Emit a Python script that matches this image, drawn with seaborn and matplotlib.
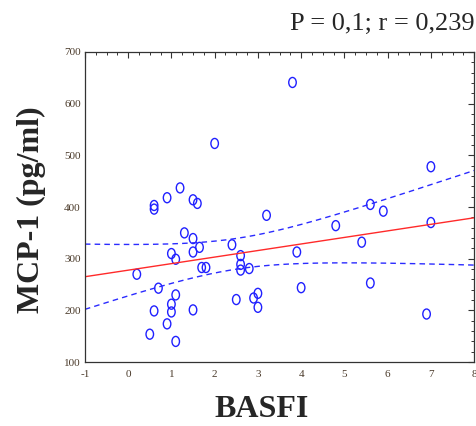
import numpy as np
import pandas as pd
import matplotlib
matplotlib.use("Agg")
import matplotlib.pyplot as plt
from matplotlib.path import Path
from matplotlib.ticker import MultipleLocator
import seaborn as sns

basfi = [2.0, 1.2, 0.9, 1.5, 1.6, 0.6, 0.6, 3.8, 7.0, 5.6, 5.9, 3.2, 1.3, 1.5,
         1.65, 1.5, 1.0, 1.1, 0.2, 1.7, 1.8, 2.4, 2.6, 2.6, 2.6, 2.8, 0.7, 1.1,
         3.0, 2.9, 2.5, 3.0, 1.0, 1.0, 0.6, 1.5, 0.9, 0.5, 1.1, 4.8, 5.4, 3.9,
         7.0, 4.0, 5.6, 6.9]
mcp1 = [523, 437, 418, 414, 407, 403, 396, 641, 478, 405, 392, 384, 350, 339,
        322, 313, 310, 299, 270, 283, 283, 327, 306, 289, 278, 281, 243, 230,
        233, 224, 221, 206, 212, 197, 199, 201, 174, 154, 140, 364, 332, 313,
        370, 244, 253, 193]
xticks = [-1, 0, 1, 2, 3, 4, 5, 6, 7, 8]
yticks = [100, 200, 300, 400, 500, 600, 700]
annot = "P = 0,1; r = 0,239"

df = pd.DataFrame({"BASFI": basfi, "MCP1": mcp1})

sns.set_style("white")
plt.rcParams["font.family"] = ["Liberation Serif", "DejaVu Serif"]
plt.rcParams["axes.unicode_minus"] = False

fig = plt.figure(figsize=(4.77, 4.26), dpi=100)
ax = fig.add_axes([0.178, 0.150, 0.816, 0.728])

# regression + 95% confidence band of the mean
x = np.asarray(basfi, float)
y = np.asarray(mcp1, float)
n = len(x)
b1, b0 = np.polyfit(x, y, 1)
resid = y - (b0 + b1 * x)
s = np.sqrt(np.sum(resid ** 2) / (n - 2))
xm = x.mean()
sxx = np.sum((x - xm) ** 2)
tcrit = 2.015
xs = np.linspace(xticks[0], xticks[-1], 200)
yfit = b0 + b1 * xs
half = tcrit * s * np.sqrt(1.0 / n + (xs - xm) ** 2 / sxx)
fit = pd.DataFrame({"x": xs, "fit": yfit, "lo": yfit - half, "hi": yfit + half})

sns.lineplot(data=fit, x="x", y="fit", color="#ff2a2a", lw=1.0, ax=ax)
sns.lineplot(data=fit, x="x", y="lo", color="#2b2bff", lw=1.0, ax=ax,
             linestyle=(0, (4, 3)))
sns.lineplot(data=fit, x="x", y="hi", color="#2b2bff", lw=1.0, ax=ax,
             linestyle=(0, (4, 3)))

circ = Path.unit_circle()
ell = Path(circ.vertices * np.array([0.75, 1.0]), circ.codes)
sns.scatterplot(data=df, x="BASFI", y="MCP1", marker=ell, s=52,
                facecolors="none", edgecolor="#2020ff", linewidth=1.0, ax=ax)

ax.set_xlim(xticks[0], xticks[-1])
ax.set_ylim(yticks[0], yticks[-1])
ax.set_xticks(xticks)
ax.set_yticks(yticks)
ax.xaxis.set_minor_locator(MultipleLocator(0.25))
ax.yaxis.set_minor_locator(MultipleLocator(20))
ax.tick_params(which="both", direction="in", top=True, right=True,
               labelsize=8, labelcolor="#4a3a2a", color="#333333")
ax.tick_params(which="major", length=4, width=0.8)
ax.tick_params(which="minor", length=2.5, width=0.7)
ax.tick_params(axis="x", pad=6)
ax.tick_params(axis="y", pad=3)
for sp in ax.spines.values():
    sp.set_color("#333333")
    sp.set_linewidth(0.9)

ax.set_xlabel("BASFI", fontsize=23, fontweight="bold", va="baseline")
ax.xaxis.set_label_coords(0.455, -0.178)
ax.set_ylabel("MCP-1 (pg/ml)", fontsize=23, fontweight="bold")
ax.yaxis.set_label_coords(-0.10, 0.49)
fig.text(0.996, 0.943, annot, fontsize=19, ha="right", va="center")

fig.savefig("out.png", dpi=100)
